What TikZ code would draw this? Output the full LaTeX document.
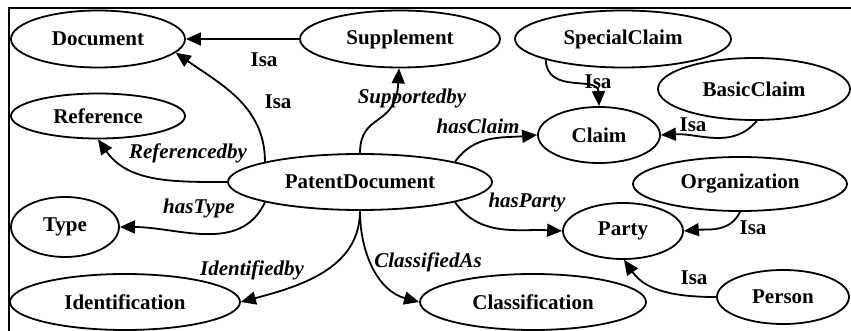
\documentclass[tikz,border=0pt]{standalone}
\usepackage{fontspec}
\setmainfont{Liberation Serif}
\usetikzlibrary{shapes.geometric,arrows.meta}
\begin{document}
\begin{tikzpicture}[x=1pt,y=-1pt,
  every node/.style={font=\fontsize{21}{25}\selectfont\bfseries},
  ent/.style={ellipse,draw,line width=1.8pt,inner sep=0pt},
  rel/.style={font=\fontsize{21}{25}\selectfont\bfseries\itshape},
  isa/.style={font=\fontsize{21}{25}\selectfont\bfseries},
  conn/.style={line width=1.8pt,-{Triangle[length=15pt,width=13pt]}}]
\useasboundingbox (0,0) rectangle (851,331);
% frame (top and left edges visible)
\coordinate (fa) at (9,331);
\coordinate (fb) at (9,8);
\coordinate (fc) at (851,8);
\draw[line width=2pt] (fa) -- (fb) -- (fc);
% entities
\node[ent,minimum width=174pt,minimum height=57pt] (doc) at (98,39) {Document};
\node[ent,minimum width=200pt,minimum height=57pt] (supp) at (400,39) {Supplement};
\node[ent,minimum width=174pt,minimum height=45pt] (ref) at (98,116) {Reference};
\node[ent,minimum width=216pt,minimum height=57pt] (spc) at (623,39) {SpecialClaim};
\node[ent,minimum width=192pt,minimum height=62pt] (bsc) at (754,89) {BasicClaim};
\node[ent,minimum width=122pt,minimum height=56pt] (clm) at (599,135) {Claim};
\node[ent,minimum width=264pt,minimum height=56pt] (pd) at (360,182) {PatentDocument};
\node[ent,minimum width=108pt,minimum height=60pt] (typ) at (65,227) {Type};
\node[ent,minimum width=230pt,minimum height=56pt] (idn) at (125,302) {Identification};
\node[ent,minimum width=226pt,minimum height=56pt] (cls) at (533,302) {Classification};
\node[ent,minimum width=214pt,minimum height=54pt] (org) at (740,184) {Organization};
\node[ent,minimum width=120pt,minimum height=56pt] (pty) at (623,231) {Party};
\node[ent,minimum width=132pt,minimum height=54pt] (per) at (783,297) {Person};
% connectors
\draw[conn] (supp.west) -- (doc.east);
\draw[conn] (pd.168) to[out=90,in=-35] (doc.-10);
\draw[conn] (pd.north) .. controls (360,112) and (396,128) .. (supp.268);
\draw[conn] (pd.west) to[out=180,in=-55] (ref.south);
\draw[conn] (pd.192) to[out=-115,in=0] (typ.east);
\draw[conn] (pd.south) to[out=-90,in=15] (idn.east);
\draw[conn] (pd.south) to[out=-90,in=165] (cls.west);
\draw[conn] (pd.12) to[out=55,in=185] (clm.west);
\draw[conn] (pd.-12) to[out=-55,in=177] (pty.west);
\draw[conn] (spc.-165) .. controls (547,95) and (598,75) .. (clm.north);
\draw[conn] (bsc.-85) to[out=-130,in=3] (clm.east);
\draw[conn] (org.-90) to[out=-115,in=5] (pty.east);
\draw[conn] (per.west) to[out=180,in=-55] (pty.-88);
% labels
\node[isa] (l1) at (264,60) {Isa};
\node[isa] (l2) at (278,102) {Isa};
\node[rel] (l3) at (412,98) {Supportedby};
\node[rel] (l4) at (188,153) {Referencedby};
\node[rel] (l5) at (199,208) {hasType};
\node[rel] (l6) at (252,270) {Identifiedby};
\node[rel] (l7) at (428,262) {ClassifiedAs};
\node[rel] (l8) at (478,126) {hasClaim};
\node[rel] (l9) at (527,202) {hasParty};
\node[isa] (l10) at (598,82) {Isa};
\node[isa] (l11) at (693,125) {Isa};
\node[isa] (l12) at (753,228) {Isa};
\node[isa] (l13) at (694,278) {Isa};
\end{tikzpicture}
\end{document}
